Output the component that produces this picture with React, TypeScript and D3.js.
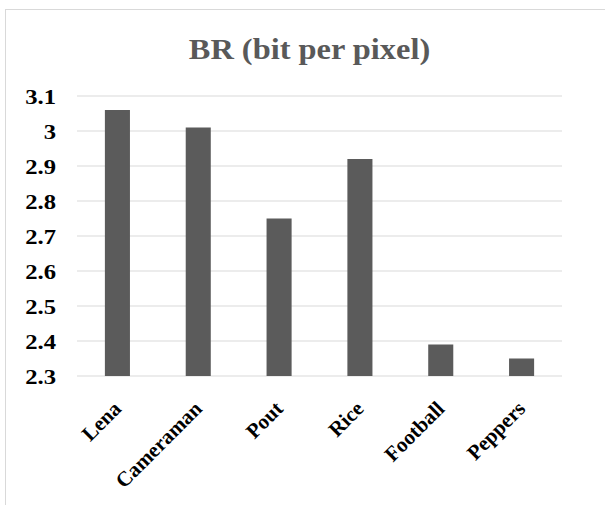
import React from "react";
import * as d3 from "d3";

const categories = ["Lena", "Cameraman", "Pout", "Rice", "Football", "Peppers"];
const values = [3.06, 3.01, 2.75, 2.92, 2.39, 2.35];
const yTicks = [2.3, 2.4, 2.5, 2.6, 2.7, 2.8, 2.9, 3.0, 3.1];
const title = "BR (bit per pixel)";

const W = 605;
const H = 505;
const plot = { left: 77, right: 562, top: 96, bottom: 376 };

export default function App() {
  const x = d3
    .scaleBand<string>()
    .domain(categories)
    .range([plot.left, plot.right])
    .paddingInner(0.69)
    .paddingOuter(0.345);
  const y = d3.scaleLinear().domain([2.3, 3.1]).range([plot.bottom, plot.top]);
  const fmt = (v: number) => (Number.isInteger(v) ? String(v) : v.toFixed(1));
  const serif = "'Liberation Serif', 'Times New Roman', serif";

  return (
    <svg
      width={W}
      height={H}
      style={{ position: "absolute", left: 0, top: 0, background: "#fff" }}
    >
      <rect x={5.5} y={9.5} width={W + 20} height={H + 20} fill="#fff" stroke="#d9d9d9" strokeWidth={1} />
      <text
        transform={`translate(309.5,59) scale(1.08,1)`}
        textAnchor="middle"
        fontFamily={serif}
        fontWeight="bold"
        fontSize={30}
        fill="#595959"
      >
        {title}
      </text>
      {yTicks.map((t) => (
        <g key={t}>
          <line
            x1={plot.left}
            x2={plot.right}
            y1={y(t)}
            y2={y(t)}
            stroke="#d9d9d9"
            strokeWidth={1.2}
          />
          <text
            transform={`translate(56,${y(t)}) scale(1.12,1)`}
            dy="0.35em"
            textAnchor="end"
            fontFamily={serif}
            fontWeight="bold"
            fontSize={22}
            fill="#000"
          >
            {fmt(t)}
          </text>
        </g>
      ))}
      {categories.map((c, i) => (
        <rect
          key={c}
          x={x(c)}
          y={y(values[i])}
          width={x.bandwidth()}
          height={y(2.3) - y(values[i])}
          fill="#5b5b5b"
        />
      ))}
      {categories.map((c) => {
        const cx = (x(c) as number) + x.bandwidth() / 2;
        return (
          <text
            key={c}
            transform={`translate(${cx + 5},${plot.bottom + 34}) rotate(-45)`}
            textAnchor="end"
            fontFamily={serif}
            fontWeight="bold"
            fontSize={21}
            fill="#000"
          >
            {c}
          </text>
        );
      })}
    </svg>
  );
}
